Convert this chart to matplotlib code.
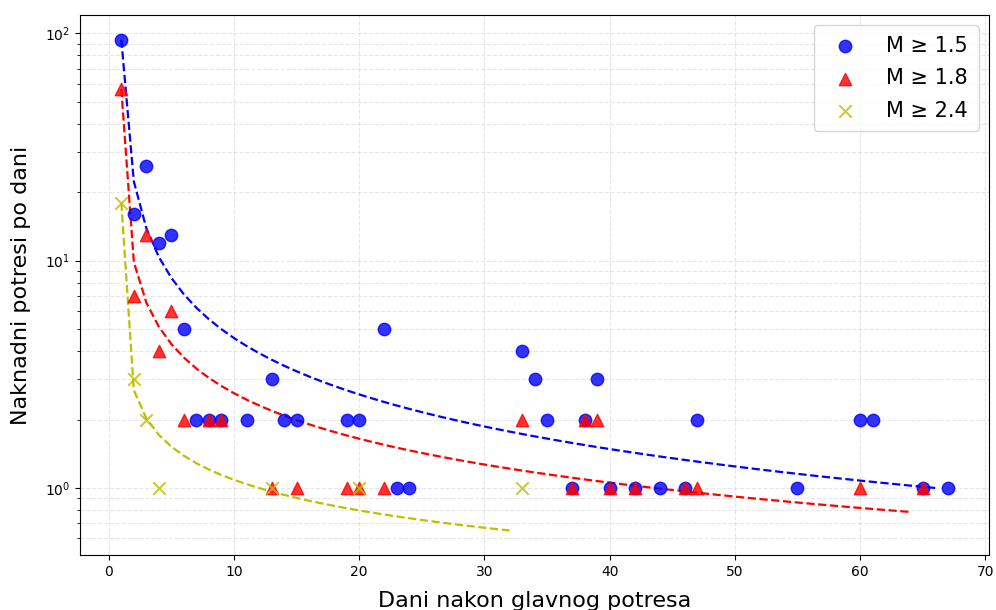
import numpy as np
import matplotlib
matplotlib.use("Agg")
import matplotlib.pyplot as plt

# ---- data ----
days_15 = [1, 2, 3, 4, 5, 6, 7, 8, 9, 11, 13, 14, 15, 19, 20, 22, 23, 24,
           33, 34, 35, 37, 38, 39, 40, 42, 44, 46, 47, 55, 60, 61, 65, 67]
counts_15 = [94, 16, 26, 12, 13, 5, 2, 2, 2, 2, 3, 2, 2, 2, 2, 5, 1, 1,
             4, 3, 2, 1, 2, 3, 1, 1, 1, 1, 2, 1, 2, 2, 1, 1]

days_18 = [1, 2, 3, 4, 5, 6, 8, 9, 13, 15, 19, 20, 22, 33, 37, 38, 39, 40,
           42, 46, 47, 60, 65]
counts_18 = [57, 7, 13, 4, 6, 2, 2, 2, 1, 1, 1, 1, 1, 2, 1, 2, 2, 1,
             1, 1, 1, 1, 1]

days_24 = [1, 2, 3, 4, 13, 20, 33]
counts_24 = [18, 3, 2, 1, 1, 1, 1]

labels = ["M \u2265 1.5", "M \u2265 1.8", "M \u2265 2.4"]


def fit_omori(t, y):
    """Least-squares fit of n(t) = K / (t + c)^p (linear space)."""
    t = np.asarray(t, float)
    y = np.asarray(y, float)
    cs = -1 + np.logspace(-4, 0.7, 500)
    ps = np.linspace(0.05, 3.0, 591)
    best = None
    for c in cs:
        base = t + c
        G = base[None, :] ** (-ps[:, None])
        K = (G @ y) / np.sum(G * G, axis=1)
        sse = np.sum((y[None, :] - K[:, None] * G) ** 2, axis=1)
        i = np.argmin(sse)
        if best is None or sse[i] < best[0]:
            best = (sse[i], K[i], c, ps[i])
    return best[1], best[2], best[3]


fig = plt.figure(figsize=(9.96, 6.10), dpi=100)
ax = fig.add_axes([80 / 996, 55 / 610, 909 / 996, 540 / 610])

series = [
    (days_15, counts_15, "b", "o", labels[0]),
    (days_18, counts_18, "r", "^", labels[1]),
    (days_24, counts_24, "y", "x", labels[2]),
]

for d, c, col, mk, lab in series:
    ax.scatter(d, c, color=col, marker=mk, s=80, alpha=0.8, label=lab,
               zorder=3)

for d, c, col, mk, lab in series:
    K, cc, p = fit_omori(d, c)
    tt = np.arange(1, max(d))
    ax.plot(tt, K / (tt + cc) ** p, color=col, linestyle="--", linewidth=1.6,
            zorder=2)

ax.set_yscale("log")
ax.set_xlabel("Dani nakon glavnog potresa", fontsize=16, labelpad=9)
ax.set_ylabel("Naknadni potresi po dani", fontsize=16, labelpad=10)
ax.grid(True, which="both", linestyle="--", alpha=0.3)
ax.legend(loc="upper right", fontsize=15, labelspacing=0.6,
          handletextpad=1.0, borderpad=0.5)

fig.savefig("out.png", dpi=100)
